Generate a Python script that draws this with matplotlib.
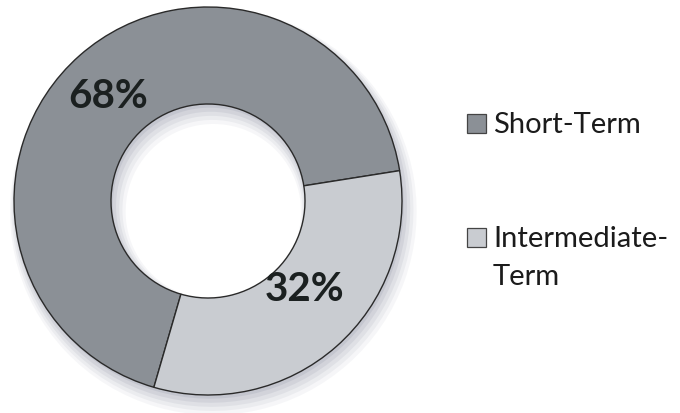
import matplotlib
matplotlib.use("Agg")
import matplotlib.pyplot as plt
from matplotlib.patches import Rectangle

labels = ["Short-Term", "Intermediate-\nTerm"]
values = [68, 32]
colors = ["#8b9096", "#c9ccd1"]

W, H = 680, 413
fig = plt.figure(figsize=(W / 100, H / 100), dpi=100)
fig.patch.set_facecolor("white")

cx, cy, R = 208, 212, 194  # pixels (cy from bottom)
xl, xr, yb, yt = -1.05, 1.12, -1.1, 1.05
ax = fig.add_axes([(cx + xl * R) / W, (cy + yb * R) / H, (xr - xl) * R / W, (yt - yb) * R / H])

# soft shadow
for i, a in enumerate([0.08, 0.10, 0.13, 0.16, 0.20]):
    off = 0.055 - i * 0.009
    ax.pie(values, radius=1.0 + 0.012 * (4 - i), center=(off * 0.5, -off),
           colors=["#8f95a6"] * 2, startangle=9, counterclock=True,
           wedgeprops=dict(width=0.5 + 0.024 * (4 - i), linewidth=0, alpha=a),
           frame=True)

wedges, texts, autotexts = ax.pie(
    values, radius=1.0, colors=colors, startangle=9, counterclock=True,
    autopct=lambda p: f"{p:.0f}%", pctdistance=0.72,
    wedgeprops=dict(width=0.5, edgecolor="#2a2a2a", linewidth=1.0),
    textprops=dict(fontsize=29, fontweight="bold", color="#1b2020", family=["Lato", "DejaVu Sans"]),
    frame=True)
autotexts[0].set_position((-0.515, 0.54))
autotexts[1].set_position((0.5, -0.455))
ax.set_xlim(xl, xr)
ax.set_ylim(yb, yt)
ax.set_aspect("equal")
ax.axis("off")

# legend (drawn in figure pixel layout)
sq = 19
box_x, text_x = 467, 493
tops = [114, 228]
line_px = 38
for lab, col, top in zip(labels, colors, tops):
    fig.patches.append(Rectangle((box_x / W, 1 - (top + sq) / H), sq / W, sq / H,
                                 transform=fig.transFigure, facecolor=col,
                                 edgecolor="#444444", linewidth=0.9))
    n_extra = lab.count("\n")
    base = top + 19 + n_extra * line_px  # baseline of last line
    fig.text(text_x / W, 1 - base / H, lab, ha="left", va="baseline",
             fontsize=21, color="#1b1b1b", family=["Lato", "DejaVu Sans"],
             linespacing=1.58)

fig.savefig("out.png", dpi=100, facecolor="white")
